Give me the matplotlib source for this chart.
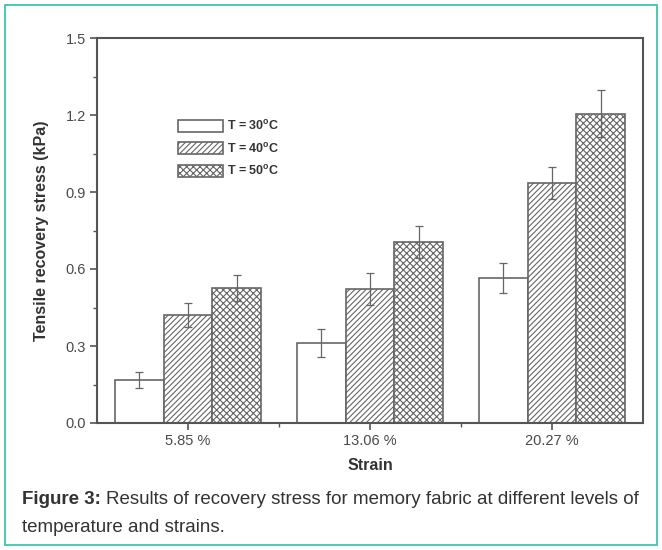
import numpy as np
import matplotlib.pyplot as plt
from matplotlib.patches import Rectangle

plt.rcParams['font.family'] = ['Liberation Sans', 'DejaVu Sans']
plt.rcParams['hatch.linewidth'] = 0.8

# -----------------------------------
# Data
# -----------------------------------
strains = ["5.85 %", "13.06 %", "20.27 %"]
temps = ["T = 30$^{\\mathregular{o}}$C", "T = 40$^{\\mathregular{o}}$C", "T = 50$^{\\mathregular{o}}$C"]

stress_30 = [0.168, 0.312, 0.565]
stress_40 = [0.420, 0.522, 0.935]
stress_50 = [0.526, 0.705, 1.205]

err_30 = [0.031, 0.055, 0.060]
err_40 = [0.047, 0.064, 0.064]
err_50 = [0.049, 0.064, 0.092]

hatches = ["", "//////", "xxxxx"]

grey = "#555555"
text_grey = "#4a4a4a"

fig = plt.figure(figsize=(6.62, 5.5), dpi=100)

# teal frame around the figure
fig.patches.append(Rectangle((5 / 662, 5 / 550), 652 / 662, 540 / 550,
                             transform=fig.transFigure, fill=False,
                             edgecolor="#3cc6ae", linewidth=1.3))

ax = fig.add_axes([97 / 662, 127 / 550, 546 / 662, 385 / 550])

x = np.arange(1, len(strains) + 1)
width = 0.267
series = [stress_30, stress_40, stress_50]
errors = [err_30, err_40, err_50]

for i, (vals, errs) in enumerate(zip(series, errors)):
    ax.bar(x + (i - 1) * width, vals, width, color="white",
           edgecolor="#666666", linewidth=1.2, hatch=hatches[i],
           label=temps[i], zorder=2)
    ax.errorbar(x + (i - 1) * width, vals, yerr=errs, fmt="none",
                ecolor="#666666", elinewidth=0.9, capsize=3,
                capthick=0.9, zorder=3)

ax.set_xlim(0.5, 3.5)
ax.set_ylim(0, 1.5)
ax.set_yticks(np.arange(0, 1.51, 0.3))
ax.set_yticks(np.arange(0.15, 1.5, 0.3), minor=True)
ax.set_yticklabels([f"{v:.1f}" for v in np.arange(0, 1.51, 0.3)])
ax.set_xticks(x)
ax.set_xticks([1.5, 2.5], minor=True)
ax.set_xticklabels(strains)

for s in ax.spines.values():
    s.set_color(grey)
    s.set_linewidth(1.5)

ax.tick_params(axis="both", which="major", direction="out", length=5,
               width=1.2, color=grey, labelcolor=text_grey, labelsize=10.5,
               pad=3)
ax.tick_params(axis="both", which="minor", direction="out", length=3,
               width=1.0, color=grey)

ax.set_xlabel("Strain", fontsize=11.5, fontweight="bold", color="#333333",
              labelpad=7)
ax.set_ylabel("Tensile recovery stress (kPa)", fontsize=11.5,
              fontweight="bold", color="#333333", labelpad=12)

leg = ax.legend(loc="upper left", bbox_to_anchor=(0.148, 0.79),
                frameon=False, fontsize=9, handlelength=3.6,
                handleheight=1.1, handletextpad=0.3, labelspacing=0.7,
                borderaxespad=0, borderpad=0)
for t in leg.get_texts():
    t.set_fontweight("bold")
    t.set_color("#333333")

# caption
cap_size = 13.5
y1 = 1 - 500 / 550
lead = fig.text(22 / 662, y1, "Figure 3: ", fontsize=cap_size,
                fontweight="bold", color="#333333", va="center")
fig.canvas.draw()
bb = lead.get_window_extent(renderer=fig.canvas.get_renderer())
fig.text(bb.x1 / fig.bbox.width, y1,
         "Results of recovery stress for memory fabric at different levels of",
         fontsize=cap_size, color="#333333", va="center")
fig.text(22 / 662, 1 - 527 / 550, "temperature and strains.",
         fontsize=cap_size, color="#333333", va="center")

fig.savefig("out.png", dpi=100)
